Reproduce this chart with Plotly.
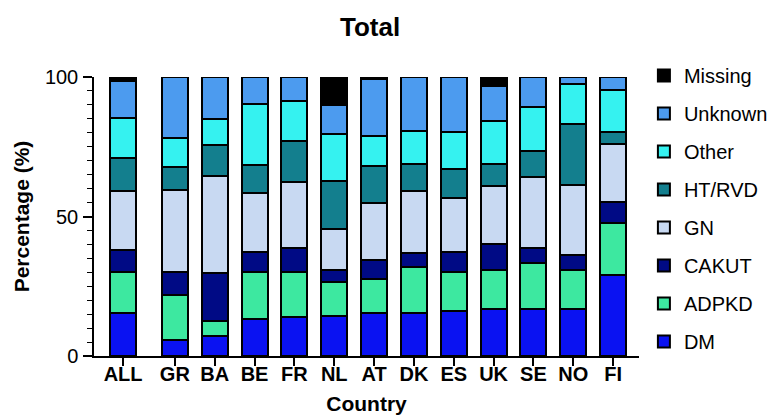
import plotly.graph_objects as go

countries = ["ALL", "GR", "BA", "BE", "FR", "NL", "AT", "DK", "ES", "UK", "SE", "NO", "FI"]

# percentages per cause (bottom to top)
dm = [15.5, 5.9, 7.1, 13.1, 13.9, 14.3, 15.5, 15.5, 16.1, 16.7, 16.7, 16.9, 29.0]
adpkd = [14.7, 15.9, 5.4, 17.1, 16.2, 12.3, 12.2, 16.5, 14.0, 14.1, 16.8, 13.9, 18.8]
cakut = [7.8, 8.3, 17.1, 6.9, 8.7, 4.4, 6.7, 4.8, 7.3, 9.5, 5.1, 5.3, 7.5]
gn = [21.2, 29.4, 35.0, 21.3, 23.4, 14.4, 20.6, 22.4, 19.2, 20.7, 25.7, 25.2, 20.7]
ht_rvd = [11.7, 8.1, 11.2, 10.2, 15.0, 17.2, 13.0, 9.6, 10.4, 7.8, 9.3, 21.7, 4.2]
other = [14.5, 10.5, 9.0, 21.8, 14.2, 16.8, 10.8, 11.8, 13.2, 15.3, 15.8, 14.6, 15.0]
unknown = [13.0, 21.9, 15.2, 9.6, 8.6, 10.4, 20.4, 19.4, 19.8, 12.7, 10.6, 2.4, 4.8]
missing = [1.6, 0.0, 0.0, 0.0, 0.0, 10.2, 0.8, 0.0, 0.0, 3.2, 0.0, 0.0, 0.0]

series = [
    ("DM", dm, "#0a12f2"),
    ("ADPKD", adpkd, "#3de8a0"),
    ("CAKUT", cakut, "#000a85"),
    ("GN", gn, "#c8d9f2"),
    ("HT/RVD", ht_rvd, "#137f8e"),
    ("Other", other, "#35f2f0"),
    ("Unknown", unknown, "#4c9bef"),
    ("Missing", missing, "#000000"),
]

# ALL sits a bit apart from the individual countries
xpos = [0] + [1.3 + i for i in range(len(countries) - 1)]

fig = go.Figure()
for i, (name, vals, col) in enumerate(series):
    fig.add_trace(go.Bar(
        x=xpos, y=vals, name=name, legendgroup=name,
        legendrank=len(series) - i,  # Missing on top of the legend
        marker=dict(color=col, line=dict(color="black", width=2)),
        width=0.65,
    ))

font = "Liberation Sans, Arial, sans-serif"
fig.update_layout(
    barmode="stack",
    width=777, height=419,
    margin=dict(l=86, r=144, t=69, b=71),
    paper_bgcolor="white", plot_bgcolor="white",
    font=dict(family=font, color="black"),
    title=dict(text="<b>Total</b>", x=0.466, xanchor="center", y=0.955, yanchor="middle",
               font=dict(size=26, family=font)),
    showlegend=True,
    legend=dict(traceorder="grouped", tracegroupgap=9, maxheight=400,
                x=1.009, xanchor="left", y=1.075, yanchor="top",
                font=dict(size=20, family=font), bgcolor="rgba(0,0,0,0)"),
    bargap=0,
)
fig.update_xaxes(
    range=[-0.73, 12.95], tickvals=xpos, ticktext=["<b>%s</b>" % c for c in countries],
    showline=True, linecolor="black", linewidth=1.5,
    ticks="outside", ticklen=8, tickwidth=1.5, tickcolor="black",
    ticklabelstandoff=-9,
    tickfont=dict(size=20, family=font), showgrid=False, zeroline=False, automargin=False,
    title=dict(text="<b>Country</b>", font=dict(size=21, family=font), standoff=13),
)
fig.update_yaxes(
    range=[0, 100], tickvals=[0, 50, 100],
    showline=True, linecolor="black", linewidth=1.5,
    ticks="outside", ticklen=9, tickwidth=1.5, tickcolor="black",
    ticklabelstandoff=1,
    minor=dict(dtick=5, ticks="outside", ticklen=5, tickwidth=1.2, tickcolor="black", showgrid=False),
    tickfont=dict(size=20, family=font), showgrid=False, zeroline=False, automargin=False,
    title=dict(text="<b>Percentage (%)</b>", font=dict(size=21, family=font), standoff=10),
)

fig.write_html("out.html")
